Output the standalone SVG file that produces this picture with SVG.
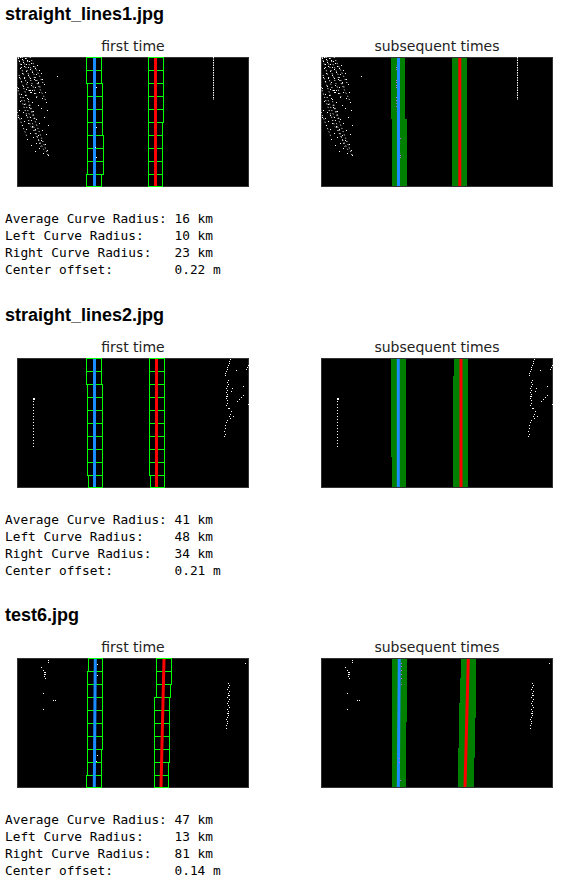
<svg xmlns="http://www.w3.org/2000/svg" width="573" height="888" viewBox="0 0 573 888">
<style>
.t{font-family:"Liberation Sans",Arial,sans-serif;font-weight:bold;font-size:18px;fill:#000}
.st{font-family:"DejaVu Sans",sans-serif;font-size:14px;fill:#222;text-anchor:middle}
.m{font-family:"DejaVu Sans Mono",monospace;font-size:12.8px;fill:#000;white-space:pre}
.img{fill:#000;stroke:#333;stroke-width:1}
.box{fill:none;stroke:#00ff00;stroke-width:1}
.band{fill:#008000}
.bl{stroke:#1a8cff;stroke-width:3;fill:none}
.rd{stroke:#ff0000;stroke-width:3;fill:none}
.px{stroke:#fff;stroke-width:1;fill:none}
.sk{stroke:#fff;stroke-width:1;stroke-dasharray:1 2.5;fill:none}
.vl{stroke:#b36be0;stroke-width:1;fill:none}
</style>
<defs>
<g id="d1">
<path class="px" d="M1 1.5h1M3 0.5h1M5 2.5h1M8 1.5h1M10 3.5h1M2 4.5h1M6 5.5h1M12 4.5h1M4 7.5h1M9 7.5h1M14 6.5h1M7 9.5h1M11 10.5h1M16 9.5h1M3 11.5h1M13 12.5h1M18 11.5h1M20 8.5h1M22 13.5h1M9 14.5h1M15 15.5h1M5 16.5h1M19 17.5h1M11 18.5h1M24 16.5h1M40 19.5h1M2 20.5h1M7 21.5h1M13 21.5h1M17 22.5h1M25 22.5h1M4 24.5h1M10 25.5h1M21 25.5h1M27 27.5h1M14 28.5h1M6 29.5h1M18 30.5h1M1 31.5h1M9 32.5h1M12 33.5h2M15 33.5h1M13 35.5h2M17 36.5h1M22 35.5h1M28 35.5h1M4 37.5h1M8 38.5h1M19 40.5h1M25 41.5h1M11 42.5h1M3 44.5h1M15 45.5h1M29 45.5h1M7 47.5h1M21 48.5h1M12 50.5h1M24 51.5h1M2 53.5h1M6 55.5h1M16 54.5h1M30 53.5h1M9 58.5h1M1 60.5h1M4 61.5h1M13 60.5h1M19 62.5h1M27 60.5h1M7 64.5h1M11 66.5h1M22 66.5h1M15 69.5h1M5 68.5h1M31 68.5h1M9 72.5h1M18 72.5h1M25 73.5h1M13 76.5h1M21 78.5h1M29 77.5h1M16 80.5h1M10 82.5h1M24 83.5h1M19 86.5h1M28 87.5h1M14 88.5h1M22 91.5h1M30 93.5h1M26 96.5h1M31 98.5h1M18 94.5h1"/>
<path class="sk" d="M1 0L12 34M5 0L20 40M9 1L24 32M13 0L26 26M2 18L18 62M0 30L14 70M6 40L24 90M12 48L31 98M0 55L10 80M15 70L28 95M17 20L29 44"/>
<path class="px" stroke-dasharray="1.5 1" d="M196.5 0V43"/>
</g>
<g id="d2">
<rect x="16" y="40" width="2" height="2" fill="#fff"/>
<path class="px" stroke-dasharray="1 2" d="M16.5 43V90"/>
<path class="px" d="M213 1.5h1M212 3.5h1M212 5.5h1M211 7.5h1M210 9.5h1M210 11.5h1M209 13.5h1M208 15.5h1M208 17.5h1M211 22.5h1M210 24.5h1M211 26.5h1M210 28.5h1M209 30.5h1M210 32.5h1M209 34.5h1M210 36.5h1M209 38.5h2M209 40.5h1M210 42.5h1M210 45.5h1M209 47.5h1M214 53.5h1M213 56.5h1M212 58.5h1M213 60.5h1M210 62.5h1M209 64.5h1M208 67.5h1M208 70.5h1M207 73.5h1M208 76.5h1M207 78.5h1M231 7.5h1M230 9.5h1M229 11.5h1M219 12.5h1M226 28.5h1M226 37.5h1M224 39.5h1M222 41.5h1M220 43.5h1M231 46.5h1M215 30.5h1M214 33.5h1M216 58.5h1M211 50.5h2"/>
</g>
<g id="d3">
<path class="px" d="M31 2.5h1M31 4.5h1M24 9.5h1M26 12.5h1M27 14.5h2M27 16.5h2M27 18.5h1M28 20.5h1M26 35.5h1M36 42.5h1M38 42.5h1M26 51.5h1M228 5.5h1M211 25.5h1M212 27.5h1M211 29.5h1M210 31.5h1M212 33.5h1M211 35.5h1M211 37.5h2M210 39.5h1M212 41.5h1M211 43.5h1M210 45.5h1M211 47.5h1M212 49.5h1M210 51.5h1M211 53.5h1M210 55.5h2M211 57.5h1M210 59.5h1M209 61.5h1M210 63.5h1M210 65.5h1M209 67.5h1M209 70.5h1"/>
</g>
</defs>

<g id="section-straight_lines1">
<text class="t" x="5" y="19.5">straight_lines1.jpg</text>
<text class="st" x="133" y="51">first time</text>
<text class="st" x="437" y="51">subsequent times</text>
<g id="s1-first" transform="translate(17,57)">
<rect class="img" x="0.5" y="0.5" width="231" height="129"/>
<use href="#d1"/>
<g class="box">
<rect x="69.5" y="0.5" width="15" height="13"/><rect x="69.5" y="13.5" width="15" height="13"/>
<rect x="70.5" y="26.5" width="15" height="13"/><rect x="70.5" y="39.5" width="15" height="13"/>
<rect x="70.5" y="52.5" width="15" height="13"/><rect x="70.5" y="65.5" width="15" height="13"/>
<rect x="70.5" y="78.5" width="16" height="13"/><rect x="70.5" y="91.5" width="16" height="13"/>
<rect x="70.5" y="104.5" width="16" height="13"/><rect x="69.5" y="117.5" width="15" height="12"/>
<rect x="131.5" y="0.5" width="15" height="13"/><rect x="131.5" y="13.5" width="15" height="13"/>
<rect x="131.5" y="26.5" width="15" height="13"/><rect x="131.5" y="39.5" width="15" height="13"/>
<rect x="131.5" y="52.5" width="15" height="13"/><rect x="131.5" y="65.5" width="14" height="13"/>
<rect x="131.5" y="78.5" width="14" height="13"/><rect x="131.5" y="91.5" width="14" height="13"/>
<rect x="131.5" y="104.5" width="14" height="13"/><rect x="131.5" y="117.5" width="14" height="12"/>
</g>
<path class="bl" d="M77.5 1V129"/>
<path class="rd" d="M138.5 1V129"/>
<path class="px" d="M79 30.5h1M79 70.5h1M78 90.5h1M79 100.5h1"/>
</g>
<g id="s1-subsequent" transform="translate(321,57)">
<rect class="img" x="0.5" y="0.5" width="231" height="129"/>
<use href="#d1"/>
<polygon class="band" points="70,1 84,1 84,62 86,62 86,129 71,129 71,62 70,62"/>
<rect class="band" x="131" y="1" width="15" height="128"/>
<path class="bl" d="M77.5 1V129"/>
<path class="rd" d="M138.8 1V129"/>
<path class="vl" d="M75 10.5h1M75 12.5h1M75 23.5h1M75 25.5h1M75 28.5h1M75 30.5h1M75 40.5h1M75 43.5h1M75 46.5h1M75 49.5h1M79 81.5h1M79 98.5h1M79 100.5h1"/>
</g>
<text class="m" x="5" y="222.5">Average Curve Radius: 16 km</text>
<text class="m" x="5" y="239.5">Left Curve Radius:    10 km</text>
<text class="m" x="5" y="256.5">Right Curve Radius:   23 km</text>
<text class="m" x="5" y="273.5">Center offset:        0.22 m</text>
</g>

<g id="section-straight_lines2" transform="translate(0,301)">
<text class="t" x="5" y="19.5">straight_lines2.jpg</text>
<text class="st" x="133" y="51">first time</text>
<text class="st" x="437" y="51">subsequent times</text>
<g id="s2-first" transform="translate(17,57)">
<rect class="img" x="0.5" y="0.5" width="231" height="129"/>
<use href="#d2"/>
<g class="box">
<rect x="69.5" y="0.5" width="15" height="13"/><rect x="69.5" y="13.5" width="15" height="13"/>
<rect x="70.5" y="26.5" width="15" height="13"/><rect x="70.5" y="39.5" width="15" height="13"/>
<rect x="70.5" y="52.5" width="15" height="13"/><rect x="70.5" y="65.5" width="15" height="13"/>
<rect x="70.5" y="78.5" width="15" height="13"/><rect x="70.5" y="91.5" width="15" height="13"/>
<rect x="70.5" y="104.5" width="15" height="13"/><rect x="71.5" y="117.5" width="14" height="12"/>
<rect x="132.5" y="0.5" width="15" height="13"/><rect x="132.5" y="13.5" width="15" height="13"/>
<rect x="132.5" y="26.5" width="15" height="13"/><rect x="132.5" y="39.5" width="15" height="13"/>
<rect x="132.5" y="52.5" width="15" height="13"/><rect x="132.5" y="65.5" width="15" height="13"/>
<rect x="132.5" y="78.5" width="15" height="13"/><rect x="132.5" y="91.5" width="15" height="13"/>
<rect x="132.5" y="104.5" width="15" height="13"/><rect x="133.5" y="117.5" width="14" height="12"/>
</g>
<path class="bl" d="M77.5 1V129"/>
<path class="rd" d="M139.5 1V129"/>
</g>
<g id="s2-subsequent" transform="translate(321,57)">
<rect class="img" x="0.5" y="0.5" width="231" height="129"/>
<use href="#d2"/>
<polygon class="band" points="70,1 85,1 85,129 71,129 71,99 70,99"/>
<polygon class="band" points="133,1 147,1 147,129 132,129 132,18 133,18"/>
<path class="bl" d="M77.3 1V129"/>
<path class="rd" d="M140 1V129"/>
</g>
<text class="m" x="5" y="222.5">Average Curve Radius: 41 km</text>
<text class="m" x="5" y="239.5">Left Curve Radius:    48 km</text>
<text class="m" x="5" y="256.5">Right Curve Radius:   34 km</text>
<text class="m" x="5" y="273.5">Center offset:        0.21 m</text>
</g>

<g id="section-test6" transform="translate(0,601)">
<text class="t" x="5" y="19.5">test6.jpg</text>
<text class="st" x="133" y="51">first time</text>
<text class="st" x="437" y="51">subsequent times</text>
<g id="s3-first" transform="translate(17,57)">
<rect class="img" x="0.5" y="0.5" width="231" height="129"/>
<use href="#d3"/>
<g class="box">
<rect x="71.5" y="0.5" width="14" height="13"/><rect x="70.5" y="13.5" width="15" height="13"/>
<rect x="70.5" y="26.5" width="15" height="13"/><rect x="70.5" y="39.5" width="15" height="13"/>
<rect x="70.5" y="52.5" width="15" height="13"/><rect x="70.5" y="65.5" width="15" height="13"/>
<rect x="70.5" y="78.5" width="15" height="13"/><rect x="70.5" y="91.5" width="14" height="13"/>
<rect x="70.5" y="104.5" width="14" height="13"/><rect x="69.5" y="117.5" width="15" height="12"/>
<rect x="139.5" y="0.5" width="15" height="13"/><rect x="139.5" y="13.5" width="15" height="13"/>
<rect x="139.5" y="26.5" width="14" height="13"/><rect x="137.5" y="39.5" width="15" height="13"/>
<rect x="137.5" y="52.5" width="15" height="13"/><rect x="137.5" y="65.5" width="15" height="13"/>
<rect x="137.5" y="78.5" width="15" height="13"/><rect x="137.5" y="91.5" width="15" height="13"/>
<rect x="137.5" y="104.5" width="14" height="13"/><rect x="137.5" y="117.5" width="14" height="12"/>
</g>
<path class="bl" d="M78.3 1L77.3 129"/>
<path class="rd" stroke-width="3.5" d="M147 1L144 129"/>
<path class="px" d="M80 6.5h1M80 17.5h1M80 97.5h1M79 103.5h1"/>
</g>
<g id="s3-subsequent" transform="translate(321,57)">
<rect class="img" x="0.5" y="0.5" width="231" height="129"/>
<use href="#d3"/>
<polygon class="band" points="71,1 86,1 86,64 85,64 85,129 71,129"/>
<polygon class="band" points="140,1 155,1 155,60 154,60 154,100 153,100 153,129 137,129 137,90 138,90 138,45 139,45 139,20 140,20"/>
<path class="bl" d="M78.3 1L77.3 129"/>
<path class="rd" stroke-width="3.5" d="M147.3 1L144 129"/>
<path class="vl" d="M80 5.5h1M80 8.5h1M80 12.5h1M80 16.5h1M80 20.5h1M80 26.5h1M78 100.5h1M78 104.5h1M79 122.5h1"/>
</g>
<text class="m" x="5" y="222.5">Average Curve Radius: 47 km</text>
<text class="m" x="5" y="239.5">Left Curve Radius:    13 km</text>
<text class="m" x="5" y="256.5">Right Curve Radius:   81 km</text>
<text class="m" x="5" y="273.5">Center offset:        0.14 m</text>
</g>
</svg>
